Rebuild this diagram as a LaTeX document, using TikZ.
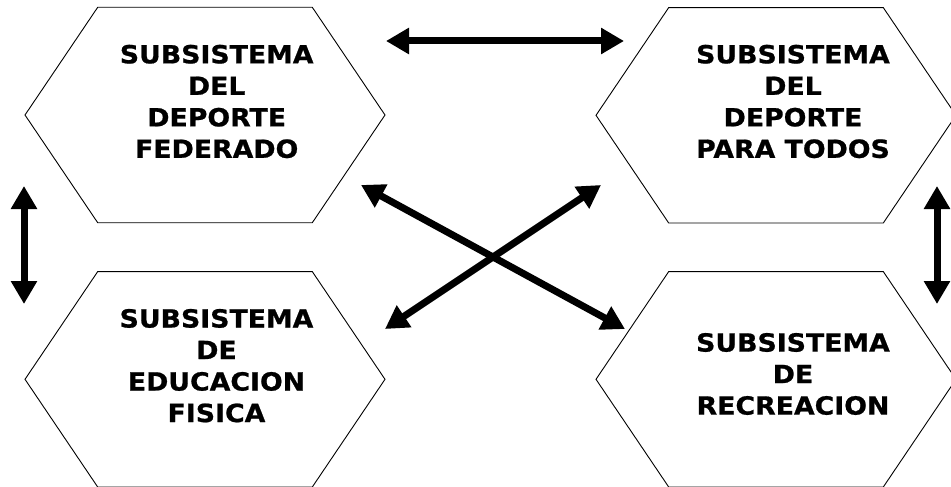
\documentclass[tikz,border=0pt]{standalone}
\usepackage{fontspec}
\setmainfont{DejaVu Sans}
\newfontfamily\hexfont[FakeStretch=1.07, FakeBold=0.8]{DejaVu Sans Bold}
\usetikzlibrary{arrows.meta, calc}

\tikzset{
    hexa/.style={line width=0.9pt, line join=miter},
    subtext/.style={font=\hexfont\fontsize{25}{31.5}\selectfont, align=center, inner sep=0pt},
    biarrow/.style={line width=7pt, {Triangle[length=23pt,width=25pt]}-{Triangle[length=23pt,width=25pt]}}
}

\begin{document}
\begin{tikzpicture}[x=1pt,y=-1pt]
            \useasboundingbox (0,0) rectangle (951,487);

            \foreach \cx/\cy in {205/115, 776/115.3, 205/379.3, 776/379.3} {
                \draw[hexa] (\cx-180,\cy) -- (\cx-107.3,\cy-107.7) -- (\cx+107.3,\cy-107.7)
                    -- (\cx+180,\cy) -- (\cx+107.3,\cy+107.7) -- (\cx-107.3,\cy+107.7) -- cycle;
            }

            \node[subtext] (federado) at (216.7,101.5) {SUBSISTEMA\\DEL\\DEPORTE\\FEDERADO};
            \node[subtext] (todos) at (793,101.5) {SUBSISTEMA\\DEL\\DEPORTE\\PARA TODOS};
            \node[subtext] (educacion) at (216.5,365.7) {SUBSISTEMA\\DE\\EDUCACION\\FISICA};
            \node[subtext] (recreacion) at (793,374) {SUBSISTEMA\\DE\\RECREACION};

            \coordinate (top-l) at (386,41);
            \coordinate (top-r) at (624,41);
            \coordinate (left-u) at (24,186);
            \coordinate (left-d) at (24,304);
            \coordinate (right-u) at (937,186);
            \coordinate (right-d) at (937,304);
            \coordinate (x1-a) at (361,185);
            \coordinate (x1-b) at (625,329);
            \coordinate (x2-a) at (385,329);
            \coordinate (x2-b) at (601,185);

            \draw[biarrow] (top-l)--(top-r);
            \draw[biarrow] (left-u)--(left-d);
            \draw[biarrow] (right-u)--(right-d);
            \draw[biarrow] (x1-a)--(x1-b);
            \draw[biarrow] (x2-a)--(x2-b);
\end{tikzpicture}
\end{document}
